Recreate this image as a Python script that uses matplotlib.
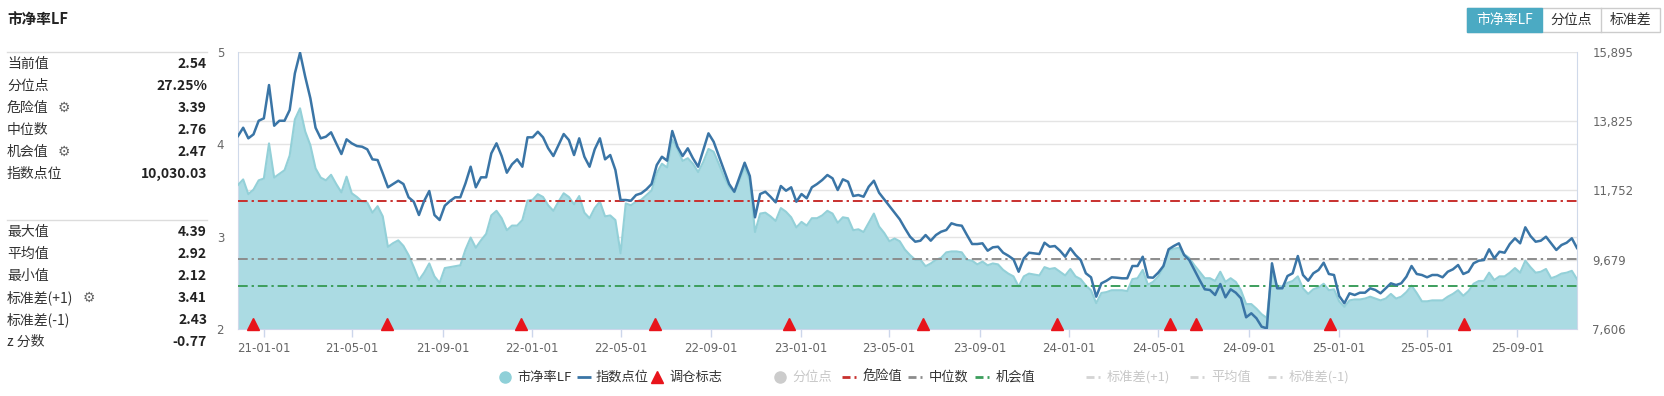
import numpy as np
import pandas as pd
import matplotlib
matplotlib.use("Agg")
import matplotlib.pyplot as plt
import matplotlib.dates as mdates
from matplotlib.lines import Line2D
from matplotlib.patches import Rectangle

plt.rcParams['font.family'] = ['Noto Sans CJK SC', 'DejaVu Sans']

W, H = 1664, 396

# weekly PB (LF) of the index
pb_values = [
    3.56, 3.62, 3.46, 3.51, 3.61, 3.63, 4.01, 3.64, 3.68, 3.72,
    3.88, 4.27, 4.39, 4.14, 3.99, 3.74, 3.64, 3.61, 3.67, 3.57,
    3.48, 3.65, 3.47, 3.43, 3.38, 3.37, 3.26, 3.33, 3.22, 2.89,
    2.93, 2.96, 2.90, 2.80, 2.67, 2.53, 2.61, 2.71, 2.57, 2.50,
    2.66, 2.67, 2.68, 2.69, 2.86, 2.99, 2.88, 2.96, 3.03, 3.23,
    3.28, 3.20, 3.07, 3.12, 3.12, 3.18, 3.39, 3.40, 3.46, 3.43,
    3.34, 3.28, 3.38, 3.47, 3.43, 3.35, 3.44, 3.26, 3.20, 3.31,
    3.38, 3.22, 3.23, 3.18, 2.82, 3.36, 3.34, 3.38, 3.40, 3.45,
    3.50, 3.69, 3.79, 3.75, 4.05, 3.95, 3.82, 3.85, 3.79, 3.70,
    3.81, 3.95, 3.92, 3.79, 3.65, 3.54, 3.48, 3.61, 3.75, 3.61,
    3.05, 3.25, 3.26, 3.22, 3.17, 3.31, 3.27, 3.21, 3.10, 3.16,
    3.12, 3.20, 3.20, 3.23, 3.28, 3.25, 3.15, 3.21, 3.20, 3.07,
    3.08, 3.05, 3.15, 3.25, 3.11, 3.04, 2.95, 2.98, 2.95, 2.86,
    2.80, 2.75, 2.75, 2.68, 2.71, 2.75, 2.77, 2.83, 2.84, 2.84,
    2.83, 2.75, 2.74, 2.70, 2.73, 2.69, 2.71, 2.70, 2.64, 2.60,
    2.57, 2.46, 2.57, 2.60, 2.59, 2.58, 2.67, 2.65, 2.66, 2.62,
    2.58, 2.65, 2.57, 2.54, 2.47, 2.42, 2.28, 2.39, 2.40, 2.42,
    2.42, 2.42, 2.41, 2.54, 2.55, 2.64, 2.48, 2.51, 2.57, 2.67,
    2.85, 2.87, 2.88, 2.81, 2.77, 2.69, 2.62, 2.55, 2.55, 2.52,
    2.62, 2.51, 2.55, 2.51, 2.42, 2.27, 2.27, 2.22, 2.16, 2.12,
    2.62, 2.47, 2.46, 2.50, 2.52, 2.57, 2.44, 2.38, 2.43, 2.45,
    2.49, 2.42, 2.43, 2.30, 2.24, 2.31, 2.32, 2.32, 2.33, 2.35,
    2.33, 2.31, 2.33, 2.38, 2.33, 2.35, 2.40, 2.47, 2.39, 2.30,
    2.30, 2.31, 2.31, 2.31, 2.35, 2.38, 2.42, 2.36, 2.41, 2.49,
    2.52, 2.52, 2.61, 2.53, 2.57, 2.57, 2.61, 2.66, 2.61, 2.74,
    2.67, 2.61, 2.62, 2.65, 2.55, 2.57, 2.60, 2.61, 2.63, 2.54,
]

# weekly index level
index_values = [
    13381, 13629, 13312, 13431, 13838, 13910, 14906, 13689, 13838, 13838,
    14159, 15256, 15873, 15155, 14509, 13629, 13312, 13360, 13491, 13162,
    12842, 13282, 13162, 13081, 13061, 12983, 12683, 12662, 12265, 11846,
    11944, 12043, 11944, 11547, 11415, 11017, 11436, 11735, 11017, 10867,
    11295, 11436, 11547, 11547, 11965, 12462, 11846, 12145, 12145, 12863,
    13162, 12782, 12283, 12534, 12683, 12462, 13342, 13342, 13509, 13342,
    13013, 12782, 13111, 13440, 13261, 12812, 13312, 12761, 12462, 12983,
    13312, 12683, 12812, 12363, 11466, 11466, 11445, 11615, 11666, 11786,
    11944, 12513, 12761, 12642, 13530, 13061, 12782, 13013, 12713, 12462,
    12962, 13461, 13210, 12782, 12363, 11944, 11714, 12145, 12582, 12184,
    10948, 11645, 11714, 11564, 11397, 11885, 11744, 11846, 11415, 11645,
    11517, 11846, 11944, 12064, 12214, 12115, 11765, 12085, 12013, 11585,
    11615, 11564, 11864, 12043, 11684, 11487, 11286, 11086, 10888, 10619,
    10368, 10218, 10248, 10418, 10248, 10418, 10517, 10568, 10769, 10718,
    10697, 10418, 10149, 10149, 10170, 9949, 10050, 10068, 9889, 9799,
    9691, 9320, 9721, 9889, 9871, 9850, 10188, 10068, 10089, 9949,
    9769, 10021, 9820, 9670, 9273, 9153, 8572, 8973, 9051, 9153,
    9141, 9123, 9123, 9491, 9491, 9769, 9153, 9141, 9291, 9491,
    9991, 10089, 10170, 9820, 9670, 9371, 9072, 8794, 8773, 8623,
    8952, 8554, 8794, 8692, 8525, 7956, 8076, 7926, 7675, 7627,
    9572, 8824, 8824, 9192, 9273, 9790, 9222, 9051, 9273, 9371,
    9590, 9252, 9222, 8593, 8375, 8674, 8623, 8692, 8692, 8824,
    8773, 8674, 8824, 8973, 8922, 8973, 9171, 9491, 9252, 9222,
    9153, 9222, 9222, 9153, 9320, 9392, 9521, 9252, 9320, 9572,
    9650, 9670, 9991, 9721, 9919, 9889, 10149, 10320, 10170, 10649,
    10389, 10218, 10248, 10368, 10170, 9970, 10119, 10188, 10320, 10030,
]

dates = pd.date_range("2020-11-27", "2025-11-21", periods=len(pb_values))

rebalance_dates = pd.to_datetime([
    "2020-12-18", "2021-06-18", "2021-12-17", "2022-06-17", "2022-12-16",
    "2023-06-16", "2023-12-15", "2024-05-17", "2024-06-21", "2024-12-20",
    "2025-06-20",
])

danger_value = 3.39
median_value = 2.76
chance_value = 2.47

pb_ticks = [2, 3, 4, 5]
index_ticks = [7606, 9679, 11752, 13825, 15895]
x_ticks = pd.date_range("2021-01-01", "2025-09-01", freq="4MS")

stats_top_labels = ["当前值", "分位点", "危险值", "中位数", "机会值", "指数点位"]
stats_top_values = ["2.54", "27.25%", "3.39", "2.76", "2.47", "10,030.03"]
stats_bottom_labels = ["最大值", "平均值", "最小值", "标准差(+1)", "标准差(-1)", "z 分数"]
stats_bottom_values = ["4.39", "2.92", "2.12", "3.41", "2.43", "-0.77"]
gear_rows = {"危险值": 64, "机会值": 64, "标准差(+1)": 89}

buttons = ["市净率LF", "分位点", "标准差"]

legend_items = [
    ("市净率LF", "circle", "#8fd0d8", "#333333"),
    ("指数点位", "line", "#3a75a6", "#333333"),
    ("调仓标志", "triangle", "#e8141b", "#333333"),
    ("分位点", "circle", "#cccccc", "#c8c8c8"),
    ("危险值", "dashdot", "#c8302e", "#333333"),
    ("中位数", "dashdot", "#8c8c8c", "#333333"),
    ("机会值", "dashdot", "#3c9e5c", "#333333"),
    ("标准差(+1)", "dashdot", "#d4d4d4", "#c8c8c8"),
    ("平均值", "dashdot", "#d4d4d4", "#c8c8c8"),
    ("标准差(-1)", "dashdot", "#d4d4d4", "#c8c8c8"),
]
legend_x = [505, 584, 657, 780, 851, 917, 984, 1095, 1199, 1277]


def fx(x):
    return x / W


def fy(y):
    return 1 - y / H


fig = plt.figure(figsize=(W / 100, H / 100), dpi=100)
fig.patch.set_facecolor("white")

ax = fig.add_axes([fx(238), fy(329), (1577 - 238) / W, (329 - 52) / H])
ax2 = ax.twinx()

ax.set_xlim(dates[0], dates[-1])
ax.set_ylim(pb_ticks[0], pb_ticks[-1])
ax2.set_ylim(index_ticks[0], index_ticks[-1])

ax.fill_between(dates, pb_ticks[0], pb_values, color="#abdbe3", lw=0, zorder=2)
ax.plot(dates, pb_values, color="#93d0d8", lw=1.5, zorder=3)

dash = (0, (5, 2, 1.2, 2))
ax.axhline(danger_value, color="#c8302e", lw=1.4, ls=dash, zorder=4)
ax.axhline(median_value, color="#8c8c8c", lw=1.4, ls=dash, zorder=4)
ax.axhline(chance_value, color="#3c9e5c", lw=1.4, ls=dash, zorder=4)

ax.plot(rebalance_dates, [pb_ticks[0] + 0.05] * len(rebalance_dates), "^",
        color="#e8141b", ms=9, clip_on=False, zorder=6)

ax2.plot(dates, index_values, color="#3a75a6", lw=1.8, zorder=5)

# grid: left-axis ticks plus right-axis ticks, both behind the area
ax.set_yticks(pb_ticks)
pb_equiv = pb_ticks[0] + (np.array(index_ticks) - index_ticks[0]) / (index_ticks[-1] - index_ticks[0]) * (pb_ticks[-1] - pb_ticks[0])
ax.set_yticks(pb_equiv, minor=True)
ax.grid(axis="y", which="both", color="#e4e4e4", lw=1)
ax.set_axisbelow(True)
ax.tick_params(axis="y", which="both", length=0, pad=10, labelsize=8.5, labelcolor="#666666")

ax.set_xticks(x_ticks)
ax.xaxis.set_major_formatter(mdates.DateFormatter("%y-%m-%d"))
ax.tick_params(axis="x", length=6, width=1, color="#ccd6eb", pad=3, labelsize=8.5, labelcolor="#666666")

ax2.set_yticks(index_ticks)
ax2.set_yticklabels([f"{v:,}" for v in index_ticks])
ax2.tick_params(axis="y", length=0, pad=11, labelsize=8.5, labelcolor="#666666")

for lab in ax.get_xticklabels() + ax.get_yticklabels() + ax2.get_yticklabels():
    lab.set_fontfamily("DejaVu Sans")

for s in ["top", "right"]:
    ax.spines[s].set_visible(False)
for s in ["top", "left", "bottom"]:
    ax2.spines[s].set_visible(False)
ax.spines["left"].set_color("#cfd9ea")
ax.spines["bottom"].set_color("#ccd6eb")
ax2.spines["right"].set_color("#cfd9ea")

# left statistics panel
fig.text(fx(7), fy(20), "市净率LF", fontsize=10.5, fontweight="bold", color="#222222", va="center")
fig.add_artist(Line2D([fx(7), fx(207)], [fy(52), fy(52)], color="#dcdcdc", lw=1))
fig.add_artist(Line2D([fx(7), fx(207)], [fy(220), fy(220)], color="#dcdcdc", lw=1))

for i, (lab, val) in enumerate(zip(stats_top_labels, stats_top_values)):
    y = 64 + 22 * i
    fig.text(fx(7), fy(y), lab, fontsize=10, color="#333333", va="center")
    fig.text(fx(207), fy(y), val, fontsize=10, fontweight="bold", color="#222222", va="center", ha="right")
    if lab in gear_rows:
        fig.text(fx(gear_rows[lab]), fy(y), "⚙", fontsize=10, color="#666666", va="center", ha="center",
                 fontfamily="DejaVu Sans")

for i, (lab, val) in enumerate(zip(stats_bottom_labels, stats_bottom_values)):
    y = 232 + 22 * i
    fig.text(fx(7), fy(y), lab, fontsize=10, color="#333333", va="center")
    fig.text(fx(207), fy(y), val, fontsize=10, fontweight="bold", color="#222222", va="center", ha="right")
    if lab in gear_rows:
        fig.text(fx(gear_rows[lab]), fy(y), "⚙", fontsize=10, color="#666666", va="center", ha="center",
                 fontfamily="DejaVu Sans")

# button group, top right
bx = [1467, 1542, 1601, 1660]
fig.add_artist(Rectangle((fx(bx[0]), fy(32)), (bx[-1] - bx[0]) / W, 24 / H, transform=fig.transFigure,
                         facecolor="white", edgecolor="#cccccc", lw=1))
fig.add_artist(Rectangle((fx(bx[0]), fy(32)), (bx[1] - bx[0]) / W, 24 / H, transform=fig.transFigure,
                         facecolor="#4baac3", edgecolor="#4baac3", lw=1))
fig.add_artist(Line2D([fx(bx[2]), fx(bx[2])], [fy(8), fy(32)], color="#cccccc", lw=1))
for i, name in enumerate(buttons):
    cx = (bx[i] + bx[i + 1]) / 2
    fig.text(fx(cx), fy(20), name, fontsize=10, color="white" if i == 0 else "#333333",
             ha="center", va="center")

# legend
ly = 377
for (name, kind, col, tcol), x in zip(legend_items, legend_x):
    if kind == "circle":
        fig.add_artist(Line2D([fx(x)], [fy(ly)], marker="o", ms=8, color=col, lw=0))
    elif kind == "triangle":
        fig.add_artist(Line2D([fx(x)], [fy(ly)], marker="^", ms=8, color=col, lw=0))
    elif kind == "line":
        fig.add_artist(Line2D([fx(x - 7), fx(x + 7)], [fy(ly), fy(ly)], color=col, lw=2,
                              solid_capstyle="butt"))
    else:
        fig.add_artist(Line2D([fx(x - 9), fx(x - 1)], [fy(ly), fy(ly)], color=col, lw=2,
                              solid_capstyle="butt"))
        fig.add_artist(Line2D([fx(x + 3), fx(x + 5)], [fy(ly), fy(ly)], color=col, lw=2,
                              solid_capstyle="butt"))
    fig.text(fx(x + 12), fy(ly), name, fontsize=9.5, color=tcol, va="center")

fig.savefig("out.png", dpi=100, facecolor="white")
